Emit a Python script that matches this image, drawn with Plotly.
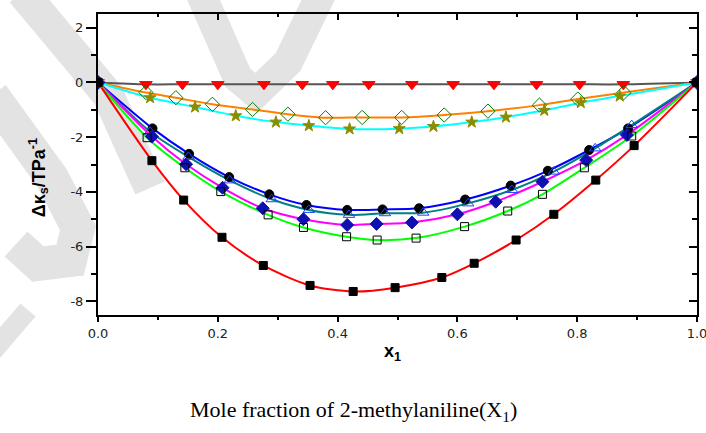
import plotly.graph_objects as go

# ---- data ----
x_tri = [0, 0.080, 0.141, 0.200, 0.277, 0.341, 0.392, 0.452, 0.524, 0.593, 0.661, 0.732, 0.804, 0.877, 1.0]
y_tri = [0, -0.07, -0.07, -0.07, -0.07, -0.07, -0.07, -0.07, -0.07, -0.07, -0.07, -0.07, -0.07, -0.07, 0]

x_dia = [0, 0.080, 0.130, 0.191, 0.258, 0.317, 0.380, 0.441, 0.507, 0.578, 0.651, 0.737, 0.801, 0.878, 1.0]
y_dia = [0, -0.37, -0.56, -0.80, -0.99, -1.16, -1.29, -1.28, -1.28, -1.19, -1.05, -0.83, -0.61, -0.37, 0]

x_star = [0, 0.087, 0.162, 0.230, 0.297, 0.352, 0.420, 0.503, 0.560, 0.624, 0.681, 0.745, 0.806, 0.871, 1.0]
y_star = [0, -0.56, -0.90, -1.22, -1.45, -1.58, -1.70, -1.69, -1.61, -1.45, -1.27, -1.02, -0.74, -0.50, 0]

x_circ = [0, 0.091, 0.152, 0.219, 0.286, 0.348, 0.416, 0.475, 0.536, 0.613, 0.689, 0.751, 0.820, 0.885, 1.0]
y_circ = [0, -1.68, -2.61, -3.46, -4.09, -4.48, -4.66, -4.64, -4.60, -4.28, -3.77, -3.23, -2.47, -1.68, 0]

x_otri = [0, 0.087, 0.151, 0.220, 0.290, 0.352, 0.419, 0.479, 0.543, 0.618, 0.691, 0.761, 0.830, 0.891, 1.0]
y_otri = [0, -1.80, -2.72, -3.58, -4.27, -4.66, -4.84, -4.78, -4.76, -4.42, -3.93, -3.26, -2.41, -1.56, 0]

x_fdia = [0, 0.090, 0.147, 0.208, 0.275, 0.343, 0.416, 0.465, 0.524, 0.600, 0.664, 0.742, 0.815, 0.883, 1.0]
y_fdia = [0, -1.98, -2.99, -3.85, -4.60, -5.00, -5.21, -5.17, -5.12, -4.82, -4.36, -3.63, -2.84, -1.92, 0]

x_osq = [0, 0.082, 0.145, 0.205, 0.284, 0.343, 0.415, 0.466, 0.531, 0.612, 0.684, 0.742, 0.812, 0.891, 1.0]
y_osq = [0, -2.02, -3.12, -3.99, -4.84, -5.30, -5.64, -5.76, -5.69, -5.27, -4.70, -4.09, -3.12, -1.96, 0]

x_fsq = [0, 0.090, 0.143, 0.207, 0.276, 0.354, 0.426, 0.496, 0.574, 0.628, 0.698, 0.761, 0.831, 0.895, 1.0]
y_fsq = [0, -2.86, -4.30, -5.66, -6.69, -7.42, -7.64, -7.50, -7.13, -6.61, -5.76, -4.82, -3.57, -2.31, 0]

x_ticks = [0.0, 0.2, 0.4, 0.6, 0.8, 1.0]
x_ticklabels = ["0.0", "0.2", "0.4", "0.6", "0.8", "1.0"]
y_ticks = [-8, -6, -4, -2, 0, 2]
y_ticklabels = ["-8", "-6", "-4", "-2", "0", "2"]

series = [
    # x, y, line colour, marker symbol, marker fill, marker edge, size
    (x_tri, y_tri, "#555555", "triangle-down", "#FF0000", "#FF0000", 11),
    (x_dia, y_dia, "#FF8000", "diamond-open", "#008000", "#008000", 11),
    (x_star, y_star, "#00FFFF", "star", "#8C8C00", "#8C8C00", 9),
    (x_circ, y_circ, "#0000FF", "circle", "#000000", "#000000", 9),
    (x_otri, y_otri, "#008080", "triangle-up-open", "#2040FF", "#2040FF", 10),
    (x_fdia, y_fdia, "#FF00FF", "diamond", "#1010B0", "#1010B0", 10),
    (x_osq, y_osq, "#00FF00", "square-open", "#000000", "#000000", 8),
    (x_fsq, y_fsq, "#FF0000", "square", "#000000", "#000000", 8),
]

# plot-area geometry in page pixels (used only to place the watermark strokes)
PX0, PX1, PY0, PY1 = 98, 697, 14, 315


def px_path(points):
    segs = []
    for i, (px, py) in enumerate(points):
        u = (px - PX0) / (PX1 - PX0)
        v = (PY1 - py) / (PY1 - PY0)
        segs.append(("M" if i == 0 else "L") + f" {u:.4f} {v:.4f}")
    return " ".join(segs)


fig = go.Figure()

# faint grey watermark strokes in the background
wm = "#E3E3E3"
strokes = [
    ([(22, -8), (108, 95), (150, 188)], 32),
    ([(200, -8), (238, 78), (256, 93), (288, 62), (322, -8)], 30),
    ([(-8, 95), (52, 178), (78, 228), (70, 260), (38, 264), (16, 244)], 34),
    ([(-8, 352), (28, 310)], 20),
]
for pts, w in strokes:
    fig.add_shape(type="path", xref="paper", yref="paper", layer="below",
                  path=px_path(pts), line=dict(color=wm, width=w))

for x, y, lc, sym, mf, me, sz in series:
    fig.add_trace(go.Scatter(x=x, y=y, mode="lines",
                             line=dict(color=lc, width=2, shape="spline", smoothing=0.8),
                             hoverinfo="skip", showlegend=False))
for x, y, lc, sym, mf, me, sz in series:
    fig.add_trace(go.Scatter(x=x, y=y, mode="markers",
                             marker=dict(symbol=sym, size=sz, color=mf,
                                         line=dict(color=me, width=1)),
                             showlegend=False))

# invisible trace for the mirror (top/right) axes
fig.add_trace(go.Scatter(x=[0.5], y=[0], xaxis="x2", yaxis="y2", mode="markers",
                         marker=dict(opacity=0), showlegend=False, hoverinfo="skip"))

tickfont = dict(family="DejaVu Sans, Verdana", size=13, color="#222222")
fig.update_layout(
    width=706, height=433,
    margin=dict(l=PX0, r=706 - PX1, t=PY0, b=433 - PY1, autoexpand=False),
    paper_bgcolor="white", plot_bgcolor="rgba(0,0,0,0)",
    xaxis=dict(range=[0, 1], tickvals=x_ticks, ticktext=x_ticklabels, automargin=False,
               showgrid=False, zeroline=False, showline=True, linecolor="black", linewidth=2,
               ticks="outside", ticklen=5, tickwidth=1.5, tickcolor="black",
               ticklabeloverflow="allow",
               minor=dict(ticks="outside", dtick=0.1, ticklen=3, tickwidth=1.5, tickcolor="black"),
               tickfont=tickfont),
    yaxis=dict(range=[-8.5, 2.5], tickvals=y_ticks, ticktext=y_ticklabels, automargin=False,
               showgrid=False, zeroline=False, showline=True, linecolor="black", linewidth=2,
               ticks="outside", ticklen=10, tickwidth=1.5, tickcolor="black",
               minor=dict(ticks="outside", dtick=1, ticklen=5, tickwidth=1.5, tickcolor="black"),
               tickfont=tickfont),
    xaxis2=dict(range=[0, 1], overlaying="x", side="top", showticklabels=False, automargin=False,
                tickvals=x_ticks, showgrid=False, zeroline=False, showline=True,
                linecolor="black", linewidth=1.5, ticks="inside", ticklen=6, tickwidth=1.5,
                tickcolor="black",
                minor=dict(ticks="inside", dtick=0.1, ticklen=3, tickwidth=1.5, tickcolor="black")),
    yaxis2=dict(range=[-8.5, 2.5], overlaying="y", side="right", showticklabels=False,
                automargin=False,
                tickvals=y_ticks, showgrid=False, zeroline=False, showline=True,
                linecolor="black", linewidth=2, ticks="inside", ticklen=8, tickwidth=1.5,
                tickcolor="black",
                minor=dict(ticks="inside", dtick=1, ticklen=5, tickwidth=1.5, tickcolor="black")),
    annotations=[
        dict(text="<b>x<sub>1</sub></b>", xref="paper", yref="paper", x=0.491, y=-0.126,
             xanchor="center", yanchor="middle", showarrow=False,
             font=dict(family="Liberation Sans, Arial", size=18, color="black")),
        dict(text="<b>Δκ<sub>s</sub>/TPa<sup>-1</sup></b>", xref="paper", yref="paper",
             x=-0.100, y=0.455, textangle=-90, xanchor="center", yanchor="middle",
             showarrow=False,
             font=dict(family="Liberation Sans, Arial", size=18, color="black")),
        dict(text="Mole fraction of 2-methylaniline(X<sub>1</sub>)", xref="paper", yref="paper",
             x=0.427, y=-0.318, xanchor="center", yanchor="middle", showarrow=False,
             font=dict(family="Liberation Serif, Times New Roman", size=22, color="black")),
    ],
)

fig.write_html("out.html", config={"displayModeBar": False},
               post_script="document.body.style.margin='0px';")
